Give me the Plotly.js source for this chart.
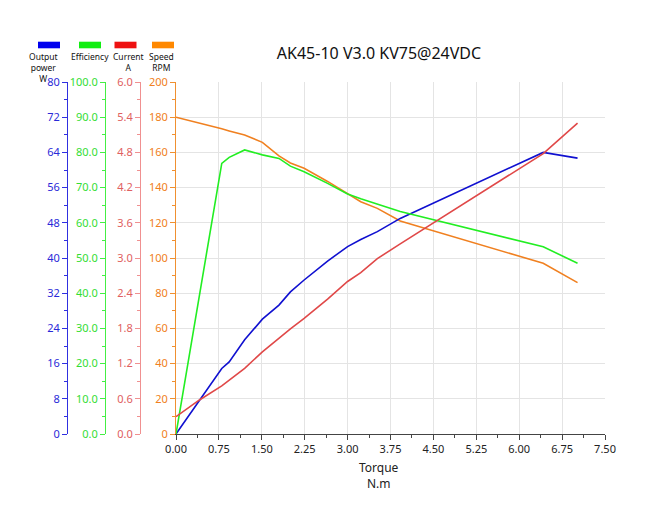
<!DOCTYPE html>
<html>
<head>
<meta charset="utf-8">
<script src="https://cdn.plot.ly/plotly-3.0.1.min.js"></script>
<style>
  html, body { margin: 0; padding: 0; background: #fff; }
  #plot { width: 653px; height: 511px; }
</style>
</head>
<body>
<div id="plot"></div>
<script>
// measured points, torque in N.m
var torque     = [0, 0.41, 0.80, 0.93, 1.20, 1.51, 1.80, 2.00, 2.24, 2.65, 3.00, 3.23, 3.52, 3.92, 6.42, 7.02];
var power      = [0, 7.7, 14.9, 16.4, 21.4, 26.1, 29.3, 32.3, 35.0, 39.3, 42.6, 44.2, 46.0, 49.0, 64.0, 62.7];
var efficiency = [0, 39.0, 76.9, 78.6, 80.7, 79.3, 78.3, 76.1, 74.5, 71.2, 68.2, 66.8, 65.3, 63.2, 53.2, 48.5];
var current    = [0.295, 0.58, 0.82, 0.92, 1.12, 1.40, 1.64, 1.79, 1.97, 2.30, 2.60, 2.75, 2.99, 3.24, 4.78, 5.30];
var speed      = [180, 176.8, 173.4, 172.2, 169.9, 165.7, 158.0, 154.0, 151.0, 143.5, 136.8, 132.0, 128.2, 121.0, 97.0, 86.0];

var seriesLabels = ['Output<br>power<br>W', 'Efficiency', 'Current<br>A', 'Speed<br>RPM'];

var FONT = 'Noto Sans, DejaVu Sans, sans-serif';
var cBlue = '#1010d0', cGreen = '#22ee22', cRed = '#e04848', cOrange = '#f08020';

// pixel -> paper helpers (margins l=20, r=48, t=82, b=77)
function px(x) { return (x - 20) / 585; }
function py(y) { return (434 - y) / 352; }

function yax(color, lineColor, range, dtick, fmt, pos, extra) {
    var a = {
        range: range, dtick: dtick, tick0: 0, tickformat: fmt,
        showline: true, linecolor: lineColor, linewidth: 1,
        ticks: 'outside', ticklen: 5, tickcolor: lineColor,
        minor: {dtick: dtick / 2, ticks: 'outside', ticklen: 3, tickcolor: lineColor, showgrid: false},
        tickfont: {family: FONT, size: 11, color: color},
        zeroline: false, showgrid: false, fixedrange: true
    };
    if (pos !== null) {
        a.anchor = 'free'; a.position = pos; a.overlaying = 'y'; a.side = 'left';
    }
    return Object.assign(a, extra || {});
}

var data = [
    {x: torque, y: speed, yaxis: 'y', mode: 'lines', name: 'Speed', line: {color: cOrange, width: 1.6}},
    {x: torque, y: efficiency, yaxis: 'y3', mode: 'lines', name: 'Efficiency', line: {color: cGreen, width: 1.6}},
    {x: torque, y: current, yaxis: 'y4', mode: 'lines', name: 'Current', line: {color: cRed, width: 1.6}},
    {x: torque, y: power, yaxis: 'y2', mode: 'lines', name: 'Output power', line: {color: cBlue, width: 1.6}}
];

var legendColors = ['#0000ee', '#11ee11', '#ee1111', '#ff8800'];
var legendX = [49, 90, 125.5, 163];
var textX = [43, 90, 128, 161];

var shapes = [], annotations = [];
legendColors.forEach(function (c, i) {
    shapes.push({type: 'rect', xref: 'paper', yref: 'paper',
        x0: px(legendX[i] - 11), x1: px(legendX[i] + 11),
        y0: py(48.3), y1: py(41.7),
        line: {width: 0}, fillcolor: c});
    annotations.push({xref: 'paper', yref: 'paper', x: px(textX[i]), y: py(50.5),
        xanchor: 'center', yanchor: 'top', showarrow: false, align: 'center', borderpad: 0,
        text: seriesLabels[i], font: {family: FONT, size: 8.5, color: '#111'}});
});
annotations.push({xref: 'paper', yref: 'paper', x: px(379), y: py(457),
    xanchor: 'center', yanchor: 'top', showarrow: false, align: 'center',
    text: 'Torque<br>N.m', font: {family: FONT, size: 12, color: '#222'}});

var layout = {
    width: 653, height: 511,
    margin: {l: 20, r: 48, t: 82, b: 77},
    paper_bgcolor: '#fff', plot_bgcolor: '#fff',
    showlegend: false,
    title: {text: 'AK45-10 V3.0 KV75@24VDC', x: px(379), xref: 'paper', xanchor: 'center',
        y: 1 - 53 / 511, yanchor: 'middle', font: {family: FONT, size: 16, color: '#111'}},
    xaxis: {
        domain: [px(176), 1], range: [0, 7.5], dtick: 0.75, tick0: 0, tickformat: '.2f',
        showline: true, linecolor: '#444', ticks: 'outside', ticklen: 5, tickcolor: '#444',
        minor: {dtick: 0.375, ticks: 'outside', ticklen: 3, tickcolor: '#444', showgrid: false},
        showgrid: true, gridcolor: '#e4e4e4', zeroline: false, fixedrange: true,
        tickfont: {family: FONT, size: 11, color: '#222'}
    },
    yaxis: yax(cOrange, '#f09030', [0, 200], 20, 'd', null, {showgrid: true, gridcolor: '#e4e4e4'}),
    yaxis2: yax('#2a2ad8', '#3030e0', [0, 80], 8, 'd', px(67)),
    yaxis3: yax('#33dd33', '#44ee44', [0, 100], 10, '.1f', px(105)),
    yaxis4: yax('#e06060', '#f09090', [0, 6], 0.6, '.1f', px(140)),
    shapes: shapes,
    annotations: annotations
};

Plotly.newPlot('plot', data, layout, {displayModeBar: false, staticPlot: true});
</script>
</body>
</html>
